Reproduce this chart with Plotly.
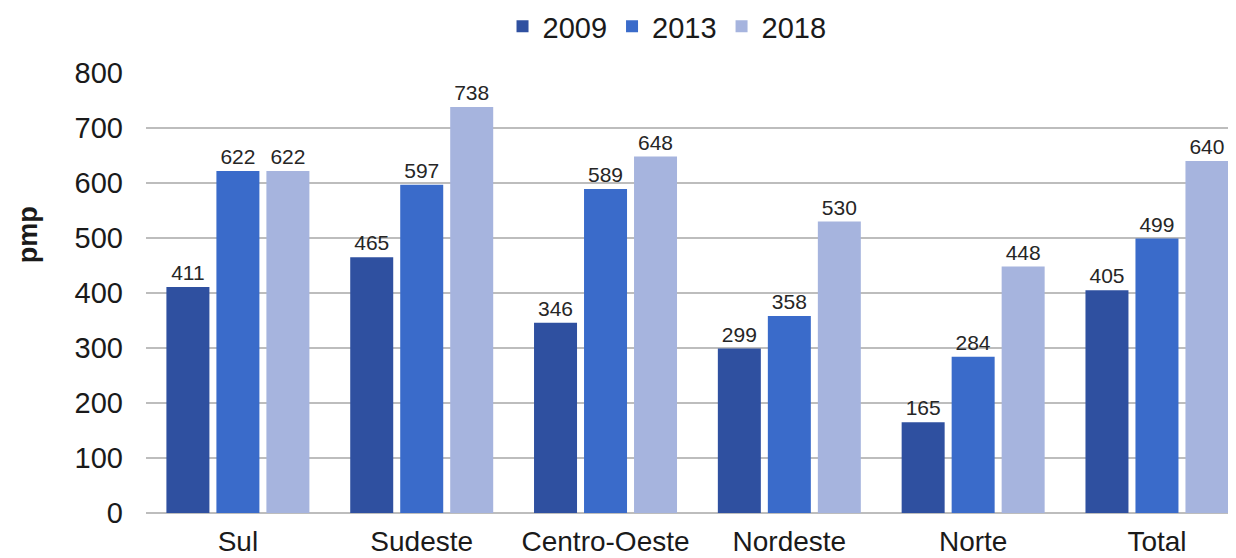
import plotly.graph_objects as go

categories = ["Sul", "Sudeste", "Centro-Oeste", "Nordeste", "Norte", "Total"]
years = ["2009", "2013", "2018"]
v2009 = [411, 465, 346, 299, 165, 405]
v2013 = [622, 597, 589, 358, 284, 499]
v2018 = [622, 738, 648, 530, 448, 640]
colors = ["#2F50A0", "#3A6BCA", "#A6B4DE"]
y_ticks = [0, 100, 200, 300, 400, 500, 600, 700, 800]

fig = go.Figure()
for name, vals, col in zip(years, [v2009, v2013, v2018], colors):
    fig.add_trace(go.Bar(
        x=categories, y=vals, name=name,
        marker=dict(color=col, line=dict(width=0)),
        text=[str(v) for v in vals], textposition="outside",
        textfont=dict(family="Liberation Sans, Arial", size=21, color="#262626"),
        cliponaxis=False,
    ))

# the page body adds an 8px offset, so the figure is sized 8px smaller
fig.update_layout(
    width=1228, height=550,
    barmode="group", bargap=0.184, bargroupgap=0.14,
    plot_bgcolor="white", paper_bgcolor="white",
    margin=dict(l=138, r=0, t=65, b=45),
    font=dict(family="Liberation Sans, Arial", color="#1a1a1a"),
    legend=dict(orientation="h", x=0.478, xanchor="center", y=0.92, yanchor="bottom",
                yref="container", font=dict(size=29, color="#1a1a1a"),
                itemwidth=30, traceorder="normal", itemclick=False),
    showlegend=True,
    xaxis=dict(range=[-0.5, 5.43], showgrid=False, showline=False, ticks="",
               automargin=False,
               tickfont=dict(size=28, color="#1a1a1a"), ticklabelstandoff=9),
    yaxis=dict(range=[0, 800], tickvals=y_ticks, showgrid=True, gridcolor="#BDBDBD",
               gridwidth=2, zeroline=True, zerolinecolor="#BDBDBD", zerolinewidth=2,
               automargin=False,
               tickfont=dict(size=29, color="#1a1a1a"), ticklabelstandoff=22,
               ticks=""),
    annotations=[dict(text="<b>pmp</b>", x=-0.108, xref="paper", y=0.632, yref="paper",
                      xanchor="center", yanchor="middle", borderpad=0,
                      showarrow=False, textangle=-90, font=dict(size=27, color="#1a1a1a"))],
)
fig.write_html("out.html")
